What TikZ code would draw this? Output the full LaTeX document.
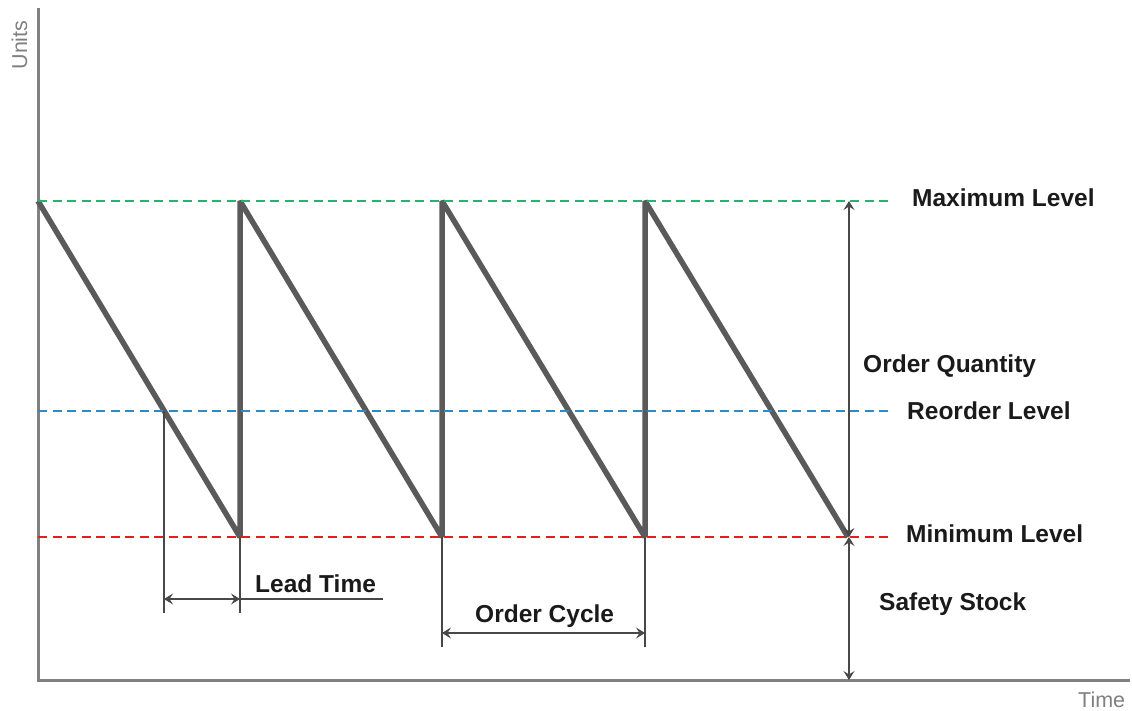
\documentclass[tikz,border=0pt]{standalone}
\usepackage{fontspec}
\setmainfont{Liberation Sans}
\usetikzlibrary{arrows.meta}
\definecolor{axisgray}{HTML}{808080}
\definecolor{stockgray}{HTML}{5A5A5A}
\definecolor{maxgreen}{HTML}{25B46A}
\definecolor{reblue}{HTML}{2A8CC2}
\definecolor{minred}{HTML}{E21F1A}
\definecolor{inkdark}{HTML}{1A1A1A}
\begin{document}
\begin{tikzpicture}[x=1pt,y=-1pt,
  axisline/.style={draw=axisgray,line width=3pt},
  levelline/.style={line width=2.8pt,dash pattern=on 9pt off 5.5pt},
  stockline/.style={draw=stockgray,line width=5.5pt,line join=bevel},
  extline/.style={draw=inkdark!80,line width=1.6pt},
  dimarrow/.style={draw=inkdark!80,line width=1.6pt,{Stealth[length=9pt,width=11pt,inset=3.5pt]}-{Stealth[length=9pt,width=11pt,inset=3.5pt]}},
  lbl/.style={font=\fontsize{24.5}{28}\selectfont\bfseries,text=inkdark,inner sep=0pt},
  axlbl/.style={font=\fontsize{21.5}{25}\selectfont,text=axisgray,inner sep=0pt}]
\useasboundingbox (0,0) rectangle (1132,711);

% axes
\coordinate (origin) at (38,680);
\coordinate (ytop) at (38,8);
\coordinate (xend) at (1130,680);
\draw[axisline] (ytop) -- (origin) -- (xend);
\node[axlbl,rotate=90] (units) at (19.5,45) {Units};
\node[axlbl,anchor=base west] (time) at (1078,707) {Time};

% level end points
\coordinate (maxL) at (38,201);   \coordinate (maxR) at (888,201);
\coordinate (reL) at (38,411);    \coordinate (reR) at (888,411);
\coordinate (minL) at (38,537);   \coordinate (minR) at (888,537);

% sawtooth stock curve
\coordinate (t1b) at (240,537); \coordinate (t1t) at (240,201);
\coordinate (t2b) at (442,537); \coordinate (t2t) at (442,201);
\coordinate (t3b) at (645,537); \coordinate (t3t) at (645,201);
\coordinate (t4b) at (848,537);
\draw[stockline] (maxL) -- (t1b) -- (t1t) -- (t2b) -- (t2t) -- (t3b) -- (t3t) -- (t4b);

% stock levels, drawn over the curve
\draw[levelline,maxgreen] (maxL) -- (maxR);
\draw[levelline,reblue] (reL) -- (reR);
\draw[levelline,minred] (minL) -- (minR);

% lead time
\coordinate (reX) at (164,411);
\coordinate (ltA) at (164,613);
\coordinate (ltB) at (240,613);
\coordinate (ltArrA) at (164,599);
\coordinate (ltArrB) at (240,599);
\coordinate (ltEnd) at (383,599);
\draw[extline] (reX) -- (ltA);
\draw[extline] (t1b) -- (ltB);
\draw[dimarrow] (ltArrA) -- (ltArrB);
\draw[extline] (ltArrB) -- (ltEnd);
\node[lbl,anchor=base west] (leadtime) at (255,592) {Lead Time};

% order cycle
\coordinate (ocA) at (442,647);
\coordinate (ocB) at (645,647);
\coordinate (ocArrA) at (442,633);
\coordinate (ocArrB) at (645,633);
\draw[extline] (t2b) -- (ocA);
\draw[extline] (t3b) -- (ocB);
\draw[dimarrow] (ocArrA) -- (ocArrB);
\node[lbl,anchor=base west] (ordercycle) at (475,622) {Order Cycle};

% quantity and safety stock dimensions
\coordinate (qTop) at (849,201);
\coordinate (qMid) at (849,537);
\coordinate (qBot) at (849,680);
\draw[dimarrow] (qTop) -- (qMid);
\draw[dimarrow] (qMid) -- (qBot);

% level labels
\node[lbl,anchor=base west] (maxlbl) at (912,207) {Maximum Level};
\node[lbl,anchor=base west] (qtylbl) at (863,372) {Order Quantity};
\node[lbl,anchor=base west] (relbl) at (907,419) {Reorder Level};
\node[lbl,anchor=base west] (minlbl) at (906,542) {Minimum Level};
\node[lbl,anchor=base west] (sslbl) at (879,610) {Safety Stock};
\end{tikzpicture}
\end{document}
